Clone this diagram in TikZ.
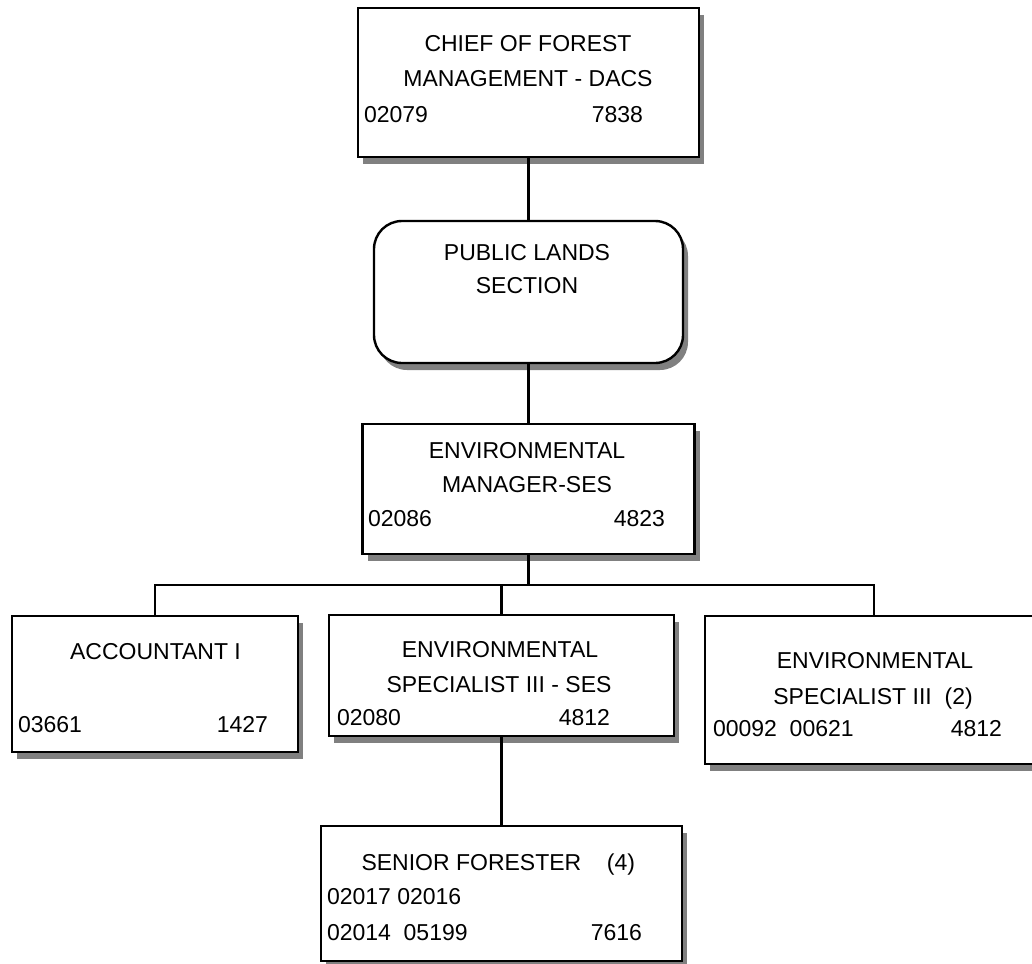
\documentclass[tikz,border=0pt]{standalone}
\usepackage{fontspec}
\setmainfont{Liberation Sans}
\usetikzlibrary{shadows}
\begin{document}
\begin{tikzpicture}[x=1pt,y=-1pt,
  every node/.style={inner sep=0pt,outer sep=0pt},
  txt/.style={font=\fontsize{23}{27}\selectfont,anchor=base},
  lnum/.style={txt,anchor=base west},
  rnum/.style={txt,anchor=base east},
  orgbox/.style={draw,line width=2.4pt,fill=white,
    drop shadow={shadow xshift=5pt,shadow yshift=-7pt,fill=black!50,opacity=1}},
  wire/.style={line width=2.4pt}]
\useasboundingbox (0,0) rectangle (1032,963);

% boxes
\node[orgbox,minimum width=341pt,minimum height=149pt] (chief) at (528.5,82.5) {};
\node[orgbox,rounded corners=28pt,minimum width=309pt,minimum height=142pt] (public) at (528.5,292) {};
\node[orgbox,minimum width=332pt,minimum height=130pt] (envmgr) at (528.5,489) {};
\node[orgbox,minimum width=286pt,minimum height=136pt] (acct) at (155,684) {};
\node[orgbox,minimum width=345pt,minimum height=121pt] (spec) at (501.5,675.5) {};
\node[orgbox,minimum width=338pt,minimum height=148pt] (spec2) at (874,690) {};
\node[orgbox,minimum width=361pt,minimum height=135pt] (senior) at (501.5,893.5) {};

% connectors
\coordinate (bus) at (528.5,585);
\draw[wire] (chief.south) -- (public.north);
\draw[wire] (public.south) -- (envmgr.north);
\draw[wire] (envmgr.south) -- (bus);
\draw[wire] (acct.north) -- (acct.north |- bus) -- (spec2.north |- bus) -- (spec2.north);
\draw[wire] (spec.north) -- (spec.north |- bus);
\draw[wire] (spec.south) -- (senior.north);

% chief
\node[txt] (chiefa) at (528,51.5) {CHIEF OF FOREST};
\node[txt] (chiefb) at (528,87) {MANAGEMENT - DACS};
\node[lnum] (chiefc) at (364,122) {02079};
\node[rnum] (chiefd) at (643,122) {7838};

% public lands
\node[txt] (puba) at (527,260) {PUBLIC LANDS};
\node[txt] (pubb) at (527,293) {SECTION};

% environmental manager
\node[txt] (mgra) at (527,458) {ENVIRONMENTAL};
\node[txt] (mgrb) at (527,492.5) {MANAGER-SES};
\node[lnum] (mgrc) at (368,526) {02086};
\node[rnum] (mgrd) at (665,526) {4823};

% accountant
\node[txt] (acca) at (155.5,659.5) {ACCOUNTANT I};
\node[lnum] (accb) at (18,732) {03661};
\node[rnum] (accc) at (268,732) {1427};

% environmental specialist III - SES
\node[txt] (speca) at (500,657.5) {ENVIRONMENTAL};
\node[txt] (specb) at (499,692.5) {SPECIALIST III - SES};
\node[lnum] (specc) at (337,725) {02080};
\node[rnum] (specd) at (610,725) {4812};

% environmental specialist III (2)
\node[txt] (spectwoa) at (875,668.5) {ENVIRONMENTAL};
\node[txt] (spectwob) at (873,704.5) {SPECIALIST III\ \ (2)};
\node[lnum] (spectwoc) at (713,736) {00092\ \ 00621};
\node[rnum] (spectwod) at (1002,736) {4812};

% senior forester
\node[txt,anchor=base west] (sena) at (361.5,870) {SENIOR FORESTER\ \ \ \ (4)};
\node[lnum] (senb) at (327,904) {02017 02016};
\node[lnum] (senc) at (327,940) {02014\ \ 05199};
\node[rnum] (send) at (642,940) {7616};
\end{tikzpicture}
\end{document}
